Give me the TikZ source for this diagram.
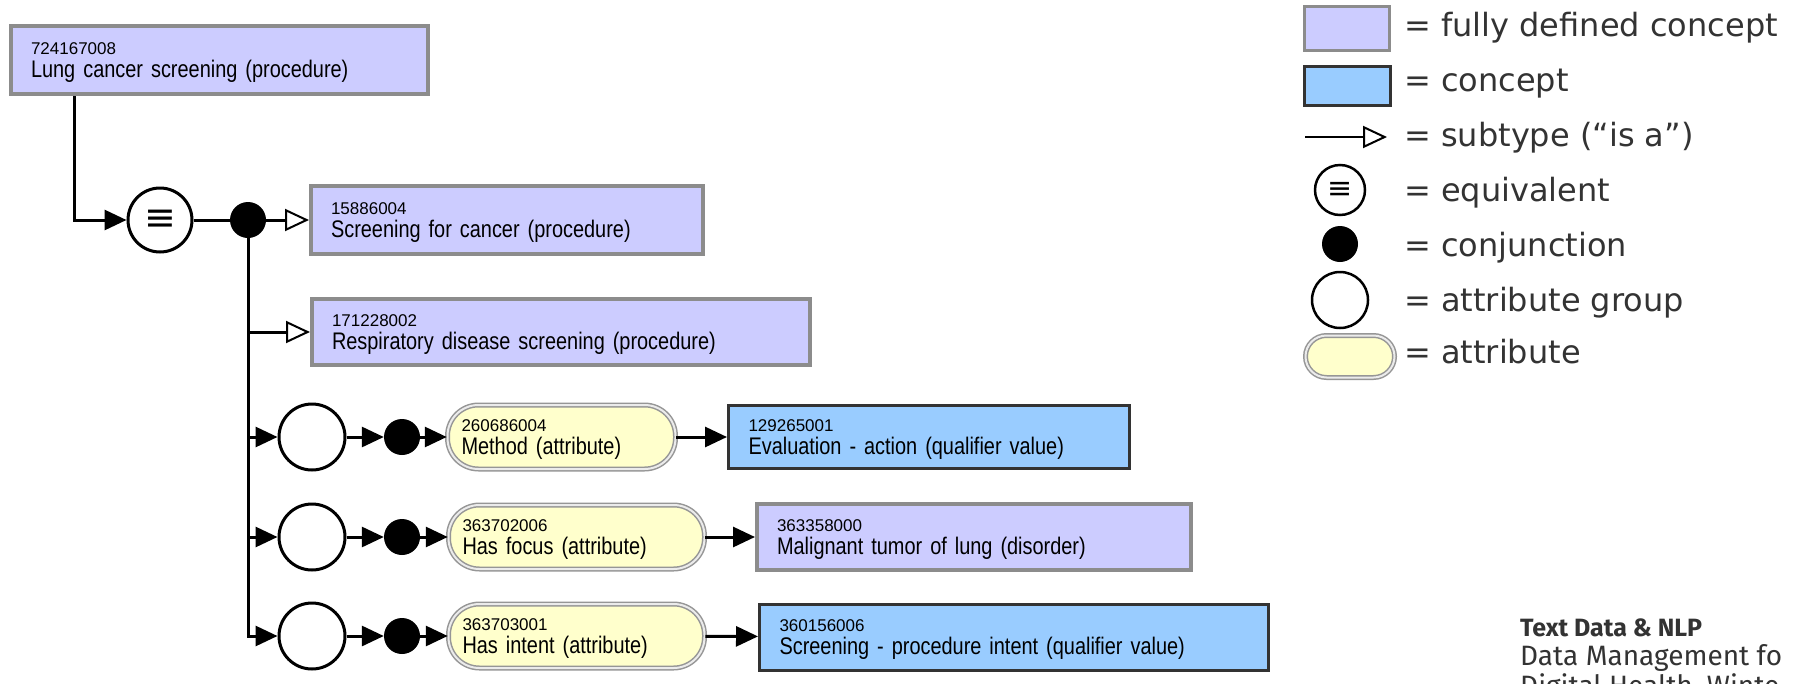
\documentclass[tikz,border=0pt]{standalone}
\usepackage{fontspec}
\setmainfont{Liberation Sans}
\newfontfamily\idfont{Liberation Sans}
\newfontfamily\namefont[FakeStretch=0.83]{Liberation Sans}
\newfontfamily\legfont{DejaVu Sans}
\newfontfamily\footfont{Fira Sans}
\usetikzlibrary{arrows.meta}

\definecolor{fullfill}{RGB}{204,204,255}
\definecolor{fullline}{RGB}{140,140,140}
\definecolor{concfill}{RGB}{153,204,255}
\definecolor{concline}{RGB}{51,51,51}
\definecolor{attrfill}{RGB}{255,255,204}
\definecolor{attrline}{RGB}{150,150,150}
\definecolor{attrgap}{RGB}{235,235,235}
\definecolor{legtextcol}{RGB}{51,51,51}

% id over name
\newcommand{\snomed}[2]{{\idfont\fontsize{17}{23}\selectfont #1}\\#2}

\tikzset{
	fullbox/.style={rectangle, draw=fullline, fill=fullfill, line width=4pt, inner xsep=20pt, inner ysep=0pt, text depth=22pt, align=left, font=\namefont\fontsize{24}{23}\selectfont},
	concbox/.style={rectangle, draw=concline, fill=concfill, line width=3pt, inner xsep=20pt, inner ysep=0pt, text depth=22pt, align=left, font=\namefont\fontsize{24}{23}\selectfont},
	attrbox/.style={rectangle, rounded corners=31pt, draw=attrline, double=attrgap, double distance=2pt, line width=1.5pt, fill=attrfill, inner xsep=14pt, inner ysep=0pt, text depth=22pt, align=left, font=\namefont\fontsize{24}{23}\selectfont},
	equiv/.style={circle, draw, line width=3pt, fill=white, minimum size=64pt, inner sep=0pt, font=\legfont\fontsize{38}{38}\selectfont},
	andnode/.style={circle, fill=black, minimum size=36pt, inner sep=0pt},
	groupnode/.style={circle, draw, line width=3pt, fill=white, minimum size=66pt, inner sep=0pt},
	has/.style={line width=3pt, -{Triangle[length=22pt,width=20pt]}},
	isa/.style={line width=3pt, -{Triangle[open,length=24pt,width=22pt,line width=2pt,fill=white]}},
	plain/.style={line width=3pt},
	legtext/.style={anchor=base west, inner sep=0pt, text=legtextcol, font=\legfont\fontsize{32}{36}\selectfont},
	foot/.style={anchor=base west, inner sep=0pt, text=legtextcol, font=\footfont\fontsize{28}{30}\selectfont}
}

\begin{document}
\begin{tikzpicture}[x=1pt, y=-1pt]
	\useasboundingbox[fill=white] (0,0) rectangle (1799,683);

	% defined concept and its definition
	\node[fullbox, text width=377pt, minimum height=68pt] (lung) at (219.5,60) {\snomed{724167008}{Lung cancer screening (procedure)}};
	\node[equiv] (eq) at (160,220) {≡};
	\node[andnode] (and0) at (248,220) {};
	\node[fullbox, text width=352pt, minimum height=68pt] (cancer) at (507,220) {\snomed{15886004}{Screening for cancer (procedure)}};
	\node[fullbox, text width=458pt, minimum height=66pt] (resp) at (561,332) {\snomed{171228002}{Respiratory disease screening (procedure)}};

	\draw[has] ([xshift=65pt]lung.south west) |- (eq);
	\draw[plain] (eq) -- (and0);
	\draw[isa] (and0) -- (cancer);
	\draw[isa] (and0) |- (resp);

	% attribute groups
	\node[groupnode] (grp1) at (312,437) {};
	\node[groupnode] (grp2) at (312,537) {};
	\node[groupnode] (grp3) at (312,636) {};
	\node[andnode] (and1) at (402,437) {};
	\node[andnode] (and2) at (402,537) {};
	\node[andnode] (and3) at (402,636) {};
	\node[attrbox, text width=200pt, minimum height=64pt] (method) at (561.5,437) {\snomed{260686004}{Method (attribute)}};
	\node[attrbox, text width=228pt, minimum height=64pt] (focus) at (576.5,537) {\snomed{363702006}{Has focus (attribute)}};
	\node[attrbox, text width=228pt, minimum height=64pt] (intent) at (576.5,636) {\snomed{363703001}{Has intent (attribute)}};
	\node[concbox, text width=361pt, minimum height=63pt] (evaluation) at (929,437) {\snomed{129265001}{Evaluation - action (qualifier value)}};
	\node[fullbox, text width=394pt, minimum height=66pt] (tumor) at (974,537) {\snomed{363358000}{Malignant tumor of lung (disorder)}};
	\node[concbox, text width=469pt, minimum height=66pt] (procintent) at (1014,637) {\snomed{360156006}{Screening - procedure intent (qualifier value)}};

	\draw[has] (and0) |- (grp1);
	\draw[has] (and0) |- (grp2);
	\draw[has] (and0) |- (grp3);
	\draw[has] (grp1) -- (and1);
	\draw[has] (grp2) -- (and2);
	\draw[has] (grp3) -- (and3);
	\draw[has] (and1) -- (method);
	\draw[has] (and2) -- (focus);
	\draw[has] (and3) -- (intent);
	\draw[has] (method) -- (evaluation);
	\draw[has] (focus) -- (tumor);
	\draw[has] (intent) -- (procintent);

	% legend
	\node[fullbox, line width=3pt, minimum width=85pt, minimum height=44pt, text depth=0pt] (lgfull) at (1347,28.5) {};
	\node[concbox, minimum width=86pt, minimum height=39pt, text depth=0pt] (lgconc) at (1347.5,86) {};
	\coordinate (lgfrom) at (1305,137);
	\coordinate (lgto) at (1387,137);
	\draw[isa, line width=2.5pt] (lgfrom) -- (lgto);
	\node[equiv, line width=2.5pt, minimum size=50pt, font=\legfont\fontsize{30}{30}\selectfont] (lgeq) at (1340,190) {≡};
	\node[andnode] (lgand) at (1340,244) {};
	\node[groupnode, line width=2.5pt, minimum size=56pt] (lggrp) at (1340,300) {};
	\node[attrbox, rounded corners=21pt, minimum width=89pt, minimum height=42pt, text depth=0pt] (lgattr) at (1350,356.5) {};

	\node[legtext] (tfull) at (1404,36) {= fully defined concept};
	\node[legtext] (tconc) at (1404,91) {= concept};
	\node[legtext] (tisa) at (1404,146) {= subtype (“is a”)};
	\node[legtext] (teq) at (1404,201) {= equivalent};
	\node[legtext] (tand) at (1404,256) {= conjunction};
	\node[legtext] (tgrp) at (1404,311) {= attribute group};
	\node[legtext] (tattr) at (1404,363) {= attribute};

	% footer
	\node[foot, font=\footfont\bfseries\fontsize{25}{28}\selectfont] (ftitle) at (1520,636) {Text Data \& NLP};
	\node[foot] (fline1) at (1520,665) {Data Management fo};
	\node[foot] (fline2) at (1520,695) {Digital Health, Winte};
\end{tikzpicture}
\end{document}
